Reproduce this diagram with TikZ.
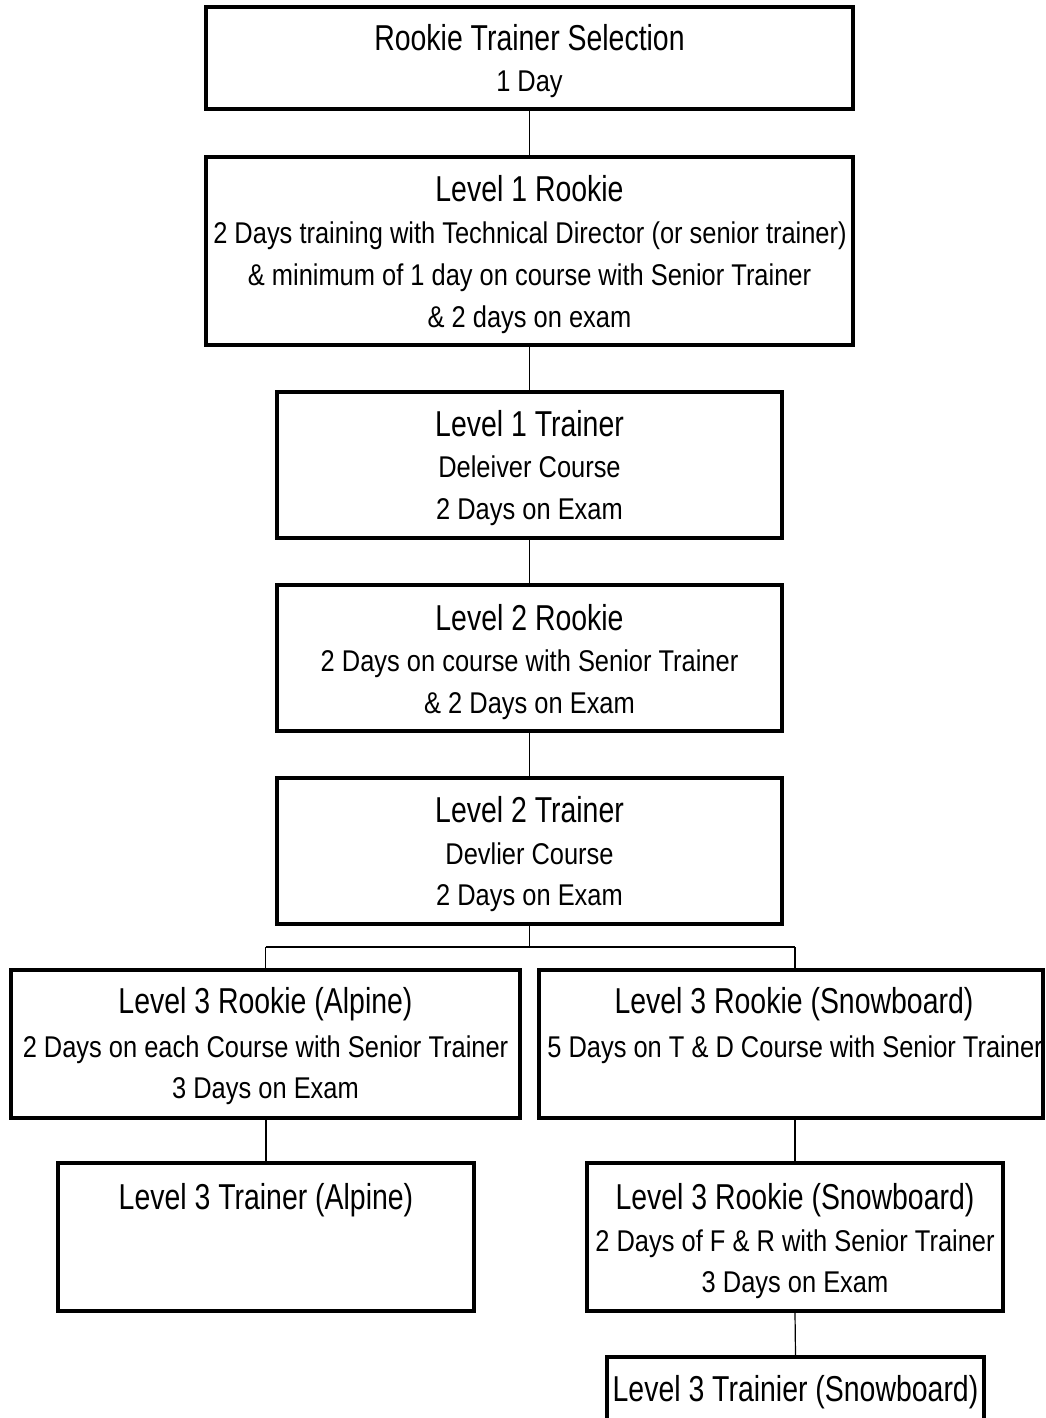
\documentclass[tikz,border=0pt]{standalone}
\usepackage{fontspec}
\setmainfont{Liberation Sans}
\newfontfamily\ttlfont[FakeStretch=0.79]{Liberation Sans}
\newfontfamily\txtfont[FakeStretch=0.848]{Liberation Sans}
\begin{document}
\begin{tikzpicture}[x=1pt,y=-1pt,
  box/.style={draw, line width=3.2pt, inner sep=0pt},
  conn/.style={line width=1.2pt},
  ttl/.style={anchor=base, font=\ttlfont\fontsize{36}{40}\selectfont, inner sep=0pt},
  txt/.style={anchor=base, font=\txtfont\fontsize{30}{34}\selectfont, inner sep=0pt}]
\useasboundingbox (0,0) rectangle (1045,1418);
% boxes
\node[box, minimum width=647pt, minimum height=102pt] (b1) at (529.5,58) {};
\node[box, minimum width=647pt, minimum height=188pt] (b2) at (529.5,251) {};
\node[box, minimum width=505pt, minimum height=146pt] (b3) at (529.5,465) {};
\node[box, minimum width=505pt, minimum height=146pt] (b4) at (529.5,658) {};
\node[box, minimum width=505pt, minimum height=146pt] (b5) at (529.5,851) {};
\node[box, minimum width=509pt, minimum height=148pt] (b6) at (265.5,1044) {};
\node[box, minimum width=504pt, minimum height=148pt] (b7) at (791,1044) {};
\node[box, minimum width=416pt, minimum height=148pt] (b8) at (266,1237) {};
\node[box, minimum width=416pt, minimum height=148pt] (b9) at (795,1237) {};
\node[box, minimum width=377pt, minimum height=90pt] (b10) at (795.5,1402) {};
% texts
\node[ttl] (t1a) at (529.5,51) {Rookie Trainer Selection};
\node[txt] (t1b) at (529.5,92) {1 Day};
\node[ttl] (t2a) at (529.5,201) {Level 1 Rookie};
\node[txt] (t2b) at (530,243) {2 Days training with Technical Director (or senior trainer)};
\node[txt] (t2c) at (529.5,285) {\& minimum of 1 day on course with Senior Trainer};
\node[txt] (t2d) at (529.5,327) {\& 2 days on exam};
\node[ttl] (t3a) at (529.5,436) {Level 1 Trainer};
\node[txt] (t3b) at (529.5,477) {Deleiver Course};
\node[txt] (t3c) at (529.5,519) {2 Days on Exam};
\node[ttl] (t4a) at (529.5,630) {Level 2 Rookie};
\node[txt] (t4b) at (529.5,671) {2 Days on course with Senior Trainer};
\node[txt] (t4c) at (529.5,713) {\& 2 Days on Exam};
\node[ttl] (t5a) at (529.5,822) {Level 2 Trainer};
\node[txt] (t5b) at (529.5,864) {Devlier Course};
\node[txt] (t5c) at (529.5,905) {2 Days on Exam};
\node[ttl] (t6a) at (265.5,1013) {Level 3 Rookie (Alpine)};
\node[txt] (t6b) at (265.5,1057) {2 Days on each Course with Senior Trainer};
\node[txt] (t6c) at (265.5,1098) {3 Days on Exam};
\node[ttl] (t7a) at (794,1013) {Level 3 Rookie (Snowboard)};
\node[txt] (t7b) at (795,1057) {5 Days on T \& D Course with Senior Trainer};
\node[ttl] (t8a) at (266,1209) {Level 3 Trainer (Alpine)};
\node[ttl] (t9a) at (795,1209) {Level 3 Rookie (Snowboard)};
\node[txt] (t9b) at (795,1251) {2 Days of F \& R with Senior Trainer};
\node[txt] (t9c) at (795,1292) {3 Days on Exam};
\node[ttl] (t10a) at (795.5,1401) {Level 3 Trainier (Snowboard)};
% connectors
\draw[conn] (b1.south) -- (b2.north);
\draw[conn] (b2.south) -- (b3.north);
\draw[conn] (b3.south) -- (b4.north);
\draw[conn] (b4.south) -- (b5.north);
\coordinate (bm) at (529.5,947);
\coordinate (bl) at (265.5,947);
\coordinate (br) at (795,947);
\draw[conn] (b5.south) -- (bm);
\draw[conn] (bl) -- (br);
\draw[conn] (bl) -- (bl |- b6.north);
\draw[conn] (br) -- (br |- b7.north);
\draw[conn] (b8.north |- b6.south) -- (b8.north);
\draw[conn] (b9.north |- b7.south) -- (b9.north);
\draw[conn] (b9.south) -- (b10.north);
\end{tikzpicture}
\end{document}
